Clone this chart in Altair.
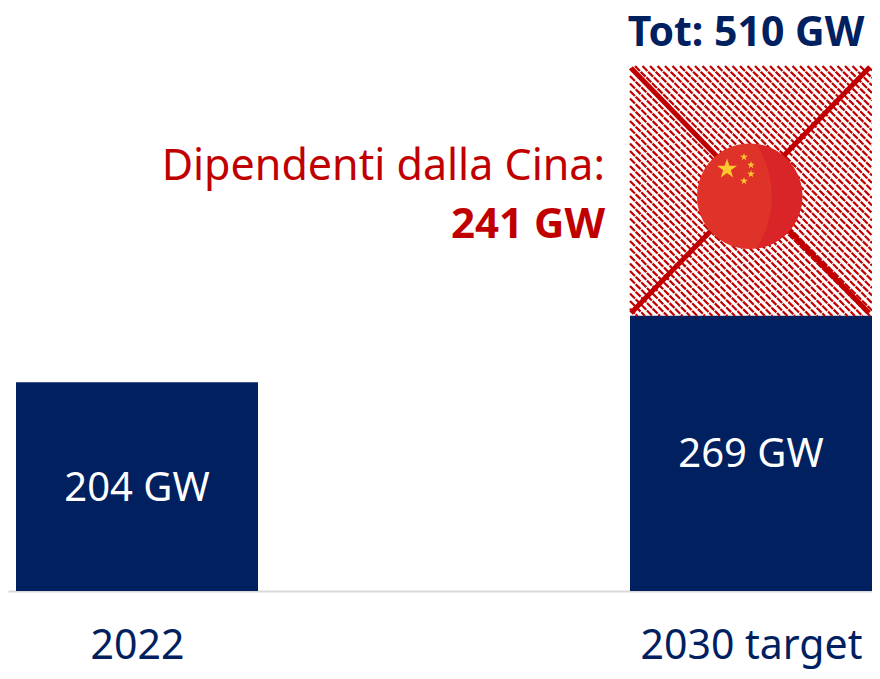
import math
import altair as alt
import pandas as pd

# ---- chart values ----
categories = ["2022", "2030 target"]
solid_values = [204, 269]
solid_labels = ["204 GW", "269 GW"]
dependent_value = 241
drawn_top = 513          # top of the hatched block as drawn in the picture
total_label = "Tot: 510 GW"
dep_label_1 = "Dipendenti dalla Cina:"
dep_label_2 = "241 GW"

NAVY, RED = "#002060", "#C00000"
W, H, BOTTOM = 864, 583, 80
PX_PER_X, PX_PER_GW = 614.0, 1.0235
X_MIN = -(137 - 8) / PX_PER_X
X_MAX = X_MIN + W / PX_PER_X
Y_MAX = H / PX_PER_GW
HALF = 121 / PX_PER_X


def fx(page_x):
    return X_MIN + (page_x - 8) / PX_PER_X


def fy(page_y):
    return (591 - page_y) / PX_PER_GW


x_scale = alt.Scale(domain=[X_MIN, X_MAX], nice=False, zero=False)
y_scale = alt.Scale(domain=[0, Y_MAX], nice=False, zero=False)
x_axis = alt.Axis(
    values=[0, 1], title=None, grid=False, ticks=False,
    labelExpr="datum.value == 0 ? '" + categories[0] + "' : '" + categories[1] + "'",
    labelFontSize=41, labelColor=NAVY, labelFont="Noto Sans", labelLimit=400,
    labelPadding=55, labelBaseline="middle", labelFlush=False, labelOverlap=False,
    domainColor="#D9D9D9", domainWidth=2,
)
X = lambda f: alt.X(f"{f}:Q", scale=x_scale, axis=x_axis)
Y = lambda f: alt.Y(f"{f}:Q", scale=y_scale, axis=None)

bars_df = pd.DataFrame({
    "pos": [0, 1], "lo": [-HALF, 1 - HALF], "hi": [HALF, 1 + HALF],
    "v": solid_values, "mid": [v / 2 for v in solid_values], "label": solid_labels,
})
bars = alt.Chart(bars_df).mark_rect(color=NAVY).encode(
    x=X("lo"), x2="hi:Q", y=Y("v"), y2=alt.datum(0),
)
bar_text = alt.Chart(bars_df).mark_text(
    color="white", fontSize=40, font="Noto Sans", baseline="middle", align="center", dy=2
).encode(x=X("pos"), y=Y("mid"), text="label:N")

# hatched block
X0, X1, Y0, Y1 = 630, 872, 66, 316
PERIOD = 7.5
hatch = []
c = X0 - Y1
while c < X1 - Y0:
    ax, ay = X0, X0 - c
    if ay < Y0:
        ax, ay = Y0 + c, Y0
    bx, by = X1, X1 - c
    if by > Y1:
        bx, by = Y1 + c, Y1
    hatch.append({"a": fx(ax), "b": fy(ay), "a2": fx(bx), "b2": fy(by)})
    c += PERIOD
hatch_df = pd.DataFrame(hatch)
hatch_layer = alt.Chart(hatch_df).mark_rule(
    color=RED, strokeWidth=2.2, strokeDash=[7, 1]
).encode(x=X("a"), y=Y("b"), x2="a2:Q", y2="b2:Q")
cross_df = pd.DataFrame({
    "a": [fx(631), fx(631)], "b": [fy(68), fy(313)],
    "a2": [fx(869), fx(869)], "b2": [fy(313), fy(68)],
})
cross = alt.Chart(cross_df).mark_rule(color=RED, strokeWidth=5).encode(
    x=X("a"), y=Y("b"), x2="a2:Q", y2="b2:Q"
)

# flag badge
R = 52.7
flag_df = pd.DataFrame({"a": [fx(749.7)], "b": [fy(196.3)]})
disc = alt.Chart(flag_df).mark_point(
    shape="circle", filled=True, opacity=1, size=(2 * R) ** 2, color="#DF3329", stroke=None
).encode(x=X("a"), y=Y("b"))
shade = alt.Chart(flag_df).mark_point(
    shape="M0.14,-0.99 A1,1 0 0 1 0.14,0.99 Q0.7,0 0.14,-0.99 Z",
    filled=True, opacity=1, size=(2 * R) ** 2, color="#D92528", stroke=None,
).encode(x=X("a"), y=Y("b"))

pts = []
for i in range(10):
    r = 1 if i % 2 == 0 else 0.382
    t = math.radians(-90 + 36 * i)
    pts.append(f"{r * math.cos(t):.3f},{r * math.sin(t):.3f}")
STAR = "M" + " L".join(pts) + " Z"
stars_df = pd.DataFrame({
    "a": [fx(727), fx(744), fx(751), fx(751), fx(744)],
    "b": [fy(169), fy(157), fy(165), fy(174), fy(181)],
    "s": [441, 64, 64, 64, 64],
})
stars = alt.Chart(stars_df).mark_point(
    shape=STAR, filled=True, opacity=1, color="#FDC92F", stroke=None
).encode(x=X("a"), y=Y("b"), size=alt.Size("s:Q", scale=None, legend=None))

# annotations
notes_df = pd.DataFrame({
    "a": [fx(605), fx(605)], "b": [fy(167), fy(225)],
    "t": [dep_label_1, dep_label_2], "w": ["normal", "bold"],
})
note1 = alt.Chart(notes_df[notes_df.w == "normal"]).mark_text(
    color=RED, fontSize=43, font="Noto Sans", align="right", baseline="middle"
).encode(x=X("a"), y=Y("b"), text="t:N")
note2 = alt.Chart(notes_df[notes_df.w == "bold"]).mark_text(
    color=RED, fontSize=42, fontWeight="bold", font="Noto Sans", align="right", baseline="middle"
).encode(x=X("a"), y=Y("b"), text="t:N")
tot_df = pd.DataFrame({"a": [fx(746)], "b": [fy(34)], "t": [total_label]})
tot = alt.Chart(tot_df).mark_text(
    color=NAVY, fontSize=41, fontWeight="bold", font="Noto Sans", align="center", baseline="middle"
).encode(x=X("a"), y=Y("b"), text="t:N")

chart = alt.layer(
    bars, bar_text, hatch_layer, cross, disc, shade, stars, note1, note2, tot
).properties(
    width=W, height=H,
    padding={"left": 0, "top": 0, "right": 0, "bottom": BOTTOM},
    autosize=alt.AutoSizeParams(type="none"),
    background="white",
).configure_view(stroke=None)

chart.save("out.html", embed_options={"renderer": "svg", "actions": False})
